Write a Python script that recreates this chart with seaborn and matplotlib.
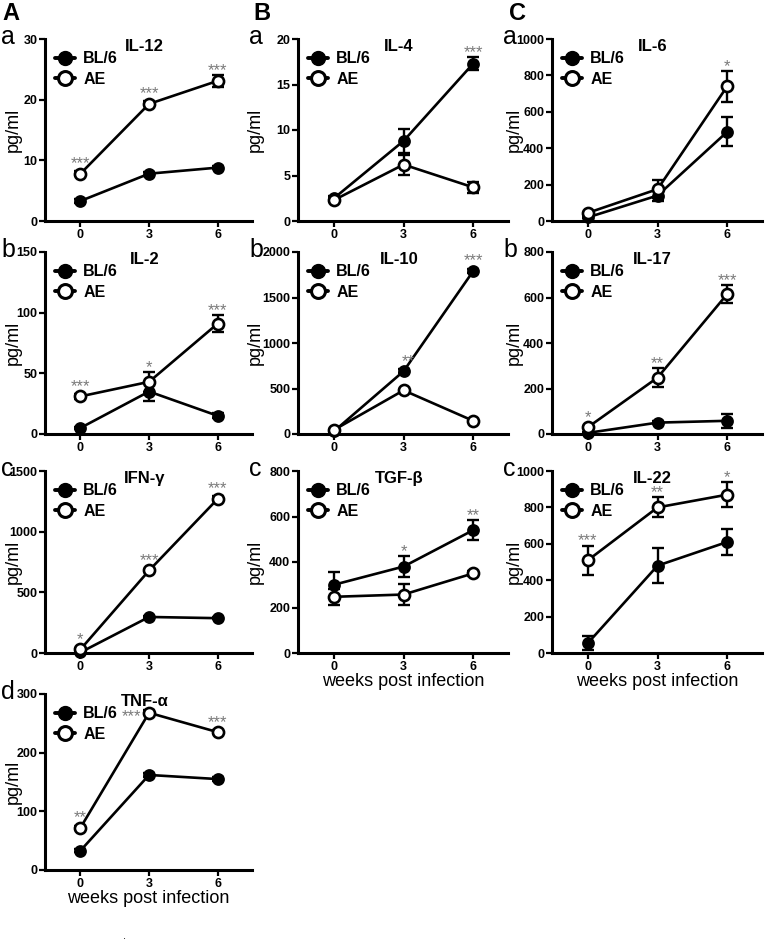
import numpy as np
import pandas as pd
import matplotlib
matplotlib.use("Agg")
import matplotlib.pyplot as plt
import seaborn as sns
from matplotlib.lines import Line2D

sns.set_theme(style="ticks")
plt.rcParams['font.family'] = ['Liberation Sans', 'DejaVu Sans']
for k in ["text.color", "axes.labelcolor", "xtick.color", "ytick.color", "axes.edgecolor"]:
    plt.rcParams[k] = "black"

weeks = [0, 3, 6]
series_names = ["BL/6", "AE"]

il12_bl = [3.3, 7.8, 8.8];      il12_bl_err = [0.3, 0.3, 0.3]
il12_ae = [7.8, 19.3, 23.1];    il12_ae_err = [0.4, 0.4, 1.0]
il2_bl = [5, 35, 15];           il2_bl_err = [1, 8, 2]
il2_ae = [31, 43, 91];          il2_ae_err = [2, 8, 7]
ifng_bl = [5, 297, 287];        ifng_bl_err = [5, 10, 10]
ifng_ae = [30, 680, 1270];      ifng_ae_err = [10, 15, 20]
tnfa_bl = [33, 162, 155];       tnfa_bl_err = [2, 3, 3]
tnfa_ae = [72, 268, 235];       tnfa_ae_err = [3, 4, 4]
il4_bl = [2.5, 8.8, 17.3];      il4_bl_err = [0.2, 1.3, 0.7]
il4_ae = [2.3, 6.2, 3.7];       il4_ae_err = [0.2, 1.1, 0.6]
il10_bl = [30, 690, 1790];      il10_bl_err = [10, 20, 20]
il10_ae = [45, 480, 145];       il10_ae_err = [10, 20, 15]
tgfb_bl = [300, 380, 540];      tgfb_bl_err = [55, 45, 45]
tgfb_ae = [247, 257, 350];      tgfb_ae_err = [35, 45, 10]
il6_bl = [20, 140, 490];        il6_bl_err = [5, 30, 80]
il6_ae = [45, 175, 740];        il6_ae_err = [5, 50, 85]
il17_bl = [5, 50, 58];          il17_bl_err = [2, 8, 30]
il17_ae = [30, 248, 615];       il17_ae_err = [5, 40, 40]
il22_bl = [55, 480, 610];       il22_bl_err = [40, 95, 70]
il22_ae = [510, 800, 870];      il22_ae_err = [80, 55, 70]

stars_il12 = ["***", "***", "***"]
stars_il2 = ["***", "*", "***"]
stars_ifng = ["*", "***", "***"]
stars_tnfa = ["**", "***", "***"]
stars_il4 = ["", "", "***"]
stars_il10 = ["", "**", "***"]
stars_tgfb = ["", "*", "**"]
stars_il6 = ["", "", "*"]
stars_il17 = ["*", "**", "***"]
stars_il22 = ["***", "**", "*"]

W, H = 765, 941
fig = plt.figure(figsize=(W / 100, H / 100), dpi=100)

narrow = ['Liberation Sans Narrow', 'Liberation Sans', 'DejaVu Sans']
tick_font = dict(family=narrow, fontweight="bold", fontsize=9)

panels = [
    ("IL-12", il12_bl, il12_bl_err, il12_ae, il12_ae_err, 30, 10, stars_il12, 0, 0, False, "a"),
    ("IL-2", il2_bl, il2_bl_err, il2_ae, il2_ae_err, 150, 50, stars_il2, 0, 1, False, "b"),
    ("IFN-γ", ifng_bl, ifng_bl_err, ifng_ae, ifng_ae_err, 1500, 500, stars_ifng, 0, 2, False, "c"),
    ("TNF-α", tnfa_bl, tnfa_bl_err, tnfa_ae, tnfa_ae_err, 300, 100, stars_tnfa, 0, 3, True, "d"),
    ("IL-4", il4_bl, il4_bl_err, il4_ae, il4_ae_err, 20, 5, stars_il4, 1, 0, False, "a"),
    ("IL-10", il10_bl, il10_bl_err, il10_ae, il10_ae_err, 2000, 500, stars_il10, 1, 1, False, "b"),
    ("TGF-β", tgfb_bl, tgfb_bl_err, tgfb_ae, tgfb_ae_err, 800, 200, stars_tgfb, 1, 2, True, "c"),
    ("IL-6", il6_bl, il6_bl_err, il6_ae, il6_ae_err, 1000, 200, stars_il6, 2, 0, False, "a"),
    ("IL-17", il17_bl, il17_bl_err, il17_ae, il17_ae_err, 800, 200, stars_il17, 2, 1, False, "b"),
    ("IL-22", il22_bl, il22_bl_err, il22_ae, il22_ae_err, 1000, 200, stars_il22, 2, 2, True, "c"),
]

col_x = [(45, 252), (298, 508), (552, 762)]
row_y = [(39, 221), (252, 434), (471, 653), (694, 870)]
sub_x = [1, 249, 503]
ylab_gap = [23, 34, 29]

for (title, bl, ble, ae, aee, ymax, ystep, stars, col, row, xl, sub) in panels:
    x0, x1 = col_x[col]
    y0, y1 = row_y[row]
    ax = fig.add_axes([x0 / W, 1 - y1 / H, (x1 - x0) / W, (y1 - y0) / H])
    df = pd.DataFrame({
        "week": weeks * 2,
        "value": list(bl) + list(ae),
        "group": [series_names[0]] * 3 + [series_names[1]] * 3,
    })
    ax.errorbar(weeks, bl, yerr=ble, fmt="none", ecolor="black", elinewidth=1.7,
                capsize=4, capthick=1.7, zorder=2, clip_on=False)
    ax.errorbar(weeks, ae, yerr=aee, fmt="none", ecolor="black", elinewidth=1.7,
                capsize=4, capthick=1.7, zorder=2, clip_on=False)
    sns.lineplot(data=df[df.group == "BL/6"], x="week", y="value", ax=ax, color="black",
                 lw=1.9, marker="o", markersize=8, markerfacecolor="black",
                 markeredgecolor="black", markeredgewidth=1.2, legend=False, zorder=3,
                 clip_on=False)
    sns.lineplot(data=df[df.group == "AE"], x="week", y="value", ax=ax, color="black",
                 lw=1.9, marker="o", markersize=8, markerfacecolor="white",
                 markeredgecolor="black", markeredgewidth=1.9, legend=False, zorder=4,
                 clip_on=False)
    ax.set_xlim(-1.55, 7.5)
    ax.set_ylim(0, ymax)
    yt = np.arange(0, ymax + ystep / 2, ystep)
    ax.set_xticks(weeks)
    ax.set_yticks(yt)
    ax.set_xticklabels([str(w) for w in weeks], **tick_font)
    ax.set_yticklabels([str(int(v)) for v in yt], **tick_font)
    for s in ["top", "right"]:
        ax.spines[s].set_visible(False)
    for s in ["left", "bottom"]:
        ax.spines[s].set_linewidth(2.2)
    ax.tick_params(axis="both", length=4, width=1.6, pad=1.5, colors="black")
    ax.set_ylabel("pg/ml", fontsize=13)
    ax.yaxis.set_label_coords(-ylab_gap[col] / (x1 - x0), 0.5)
    if xl:
        ax.set_xlabel("weeks post infection", fontsize=13, labelpad=0)
    else:
        ax.set_xlabel("")
    ax.text(0.48, 0.96, title, transform=ax.transAxes, ha="center", va="center",
            family=narrow, fontweight="bold", fontsize=12)
    handles = [
        Line2D([], [], color="black", lw=2.8, marker="o", markersize=10,
               markerfacecolor="black", markeredgecolor="black"),
        Line2D([], [], color="black", lw=2.8, marker="o", markersize=10,
               markerfacecolor="white", markeredgecolor="black", markeredgewidth=2.2),
    ]
    ax.legend(handles, series_names, loc="upper left", bbox_to_anchor=(0.0, 0.985),
              frameon=False, handlelength=1.3, handletextpad=0.5, labelspacing=0.35,
              borderaxespad=0.2, prop={"weight": "bold", "size": 11.5})
    ppu = (y1 - y0) / ymax
    for i, st in enumerate(stars):
        if not st:
            continue
        tops = [bl[i] * ppu + max(ble[i] * ppu, 5.5), ae[i] * ppu + max(aee[i] * ppu, 5.5)]
        top_px = max(tops)
        if title == "TNF-α" and i == 1:
            ax.annotate(st, (weeks[i], ae[i]), xytext=(-6, -3), textcoords="offset points",
                        ha="right", va="center", color="#7a7a7a", fontsize=12)
            continue
        dx = 3 if (title == "IL-10" and i == 1) else 0
        off_pts = (top_px - ae[i] * ppu - 3) * 0.72
        ax.annotate(st, (weeks[i], ae[i]), xytext=(dx, off_pts), textcoords="offset points",
                    ha="center", va="bottom", color="#7a7a7a", fontsize=12)
    fig.text(sub_x[col] / W, 1 - (y0 + 5) / H, sub, fontsize=18, ha="left", va="baseline")

for letter, x in zip(["A", "B", "C"], [2, 253, 509]):
    fig.text(x / W, 1 - 20 / H, letter, fontsize=17, fontweight="bold", ha="left", va="baseline")

fig.text(125 / W, 1 - 936 / H, ".", fontsize=8, ha="center", va="center")

fig.savefig("out.png", dpi=100)
